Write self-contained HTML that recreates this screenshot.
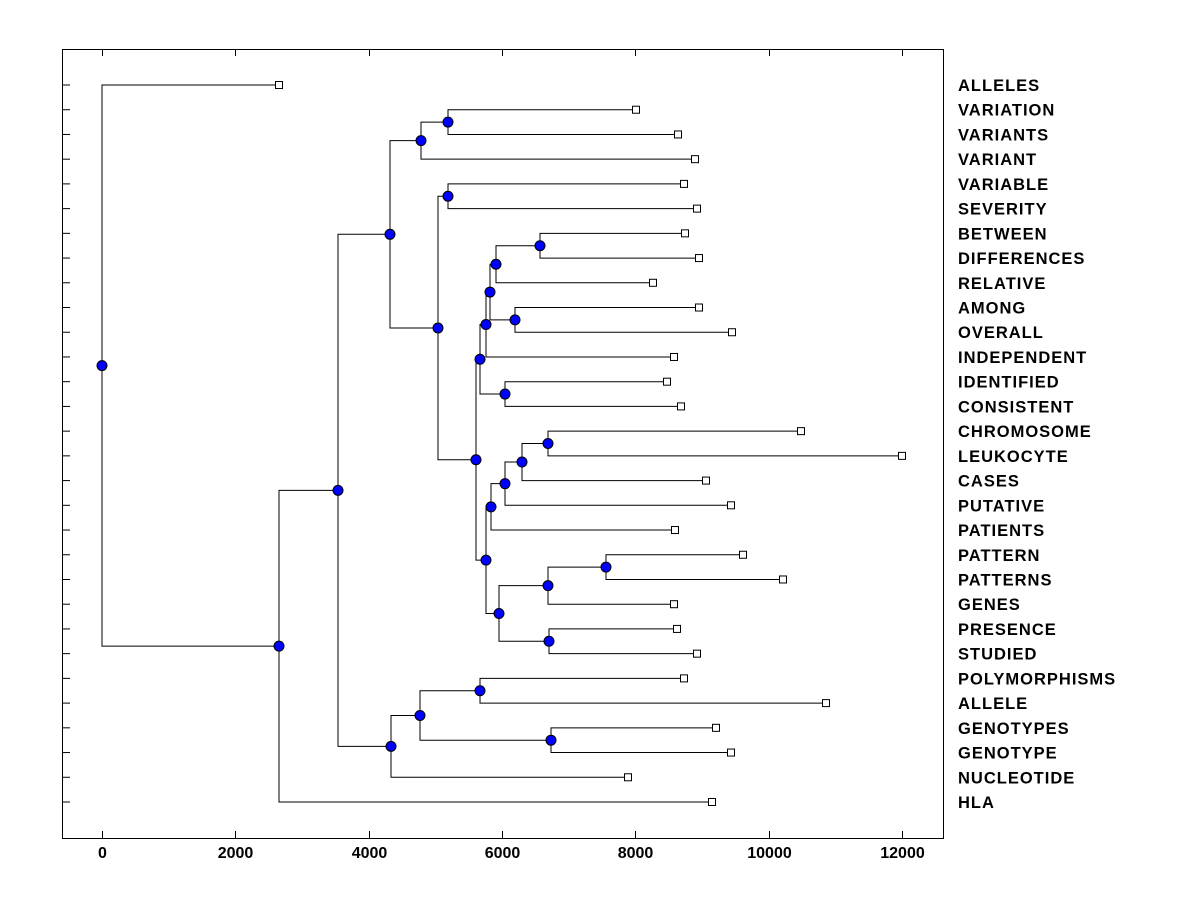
<!DOCTYPE html>
<html><head><meta charset="utf-8"><style>
body{margin:0;background:#fff;}
svg{display:block;font-family:"Liberation Sans",sans-serif;}
</style></head><body>
<svg id="chart" width="1200" height="900">
<rect x="0" y="0" width="1200" height="900" fill="#fff"/>
</svg>
<script>
const leafNames=["ALLELES","VARIATION","VARIANTS","VARIANT","VARIABLE","SEVERITY","BETWEEN","DIFFERENCES","RELATIVE","AMONG","OVERALL","INDEPENDENT","IDENTIFIED","CONSISTENT","CHROMOSOME","LEUKOCYTE","CASES","PUTATIVE","PATIENTS","PATTERN","PATTERNS","GENES","PRESENCE","STUDIED","POLYMORPHISMS","ALLELE","GENOTYPES","GENOTYPE","NUCLEOTIDE","HLA"];
const leafValues=[2655,8010,8640,8895,8730,8925,8745,8955,8265,8955,9450,8580,8475,8685,10485,12000,9060,9435,8595,9615,10215,8580,8625,8925,8730,10860,9210,9435,7890,9150];
// internal nodes: children refer to leaf names or node ids
const nodeIds=["G","E","H","Q","P","O","N","L","M","J","V","U","T","R","Y","W","X","S","K","I","F","C","AA","AB","Z","D","B","A","root"];
const nodeHeights=[5190,4785,5190,6570,5910,6195,5820,5760,6045,5670,6690,6300,6045,5835,7560,6690,6705,5955,5760,5610,5040,4320,5670,6735,4770,4335,3540,2655,0];
const nodeLeft=["VARIATION","G","VARIABLE","BETWEEN","Q","AMONG","P","N","IDENTIFIED","L","CHROMOSOME","V","U","T","PATTERN","Y","PRESENCE","W","R","J","H","E","POLYMORPHISMS","GENOTYPES","AA","Z","C","B","ALLELES"];
const nodeRight=["VARIANTS","VARIANT","SEVERITY","DIFFERENCES","RELATIVE","OVERALL","O","INDEPENDENT","CONSISTENT","M","LEUKOCYTE","CASES","PUTATIVE","PATIENTS","PATTERNS","GENES","STUDIED","X","S","K","I","F","ALLELE","GENOTYPE","AB","NUCLEOTIDE","D","HLA","A"];
const xTicks=[0,2000,4000,6000,8000,10000,12000];

const svg=document.getElementById('chart');
const NS="http://www.w3.org/2000/svg";
const L=62,R=943,T=49,B=838;
const xMin=-600,xMax=12615;
const xs=v=>L+(v-xMin)/(xMax-xMin)*(R-L);
const y0=85,dy=(802-85)/(leafNames.length-1);
const ys=i=>y0+i*dy;
function mk(tag,a,parent){const e=document.createElementNS(NS,tag);for(const k in a)e.setAttribute(k,a[k]);(parent||svg).appendChild(e);return e;}

const pos={};
leafNames.forEach((n,i)=>{pos[n]={x:xs(leafValues[i]),y:ys(i)};});
const gL=mk('g',{});


nodeIds.forEach((id,i)=>{
  const a=pos[nodeLeft[i]],b=pos[nodeRight[i]];
  const x=xs(nodeHeights[i]);
  pos[id]={x:x,y:(a.y+b.y)/2};
  const p=mk('path',{d:`M${a.x},${a.y}H${x}V${b.y}H${b.x}`,fill:'none',stroke:'#000','stroke-width':1},gL);
  
  
});
const box=mk('rect',{x:L+0.5,y:T+0.5,width:R-L,height:B-T,fill:'none',stroke:'#000','stroke-width':1});


leafNames.forEach((n,i)=>{
  const t=mk('line',{x1:L,x2:L+8,y1:ys(i),y2:ys(i),stroke:'#000'});
  
  
  const lb=mk('text',{x:958,y:ys(i)+6,'font-size':16.5,'font-weight':'bold','letter-spacing':1,fill:'#000'});
  lb.textContent=n;
  
  
});
xTicks.forEach(v=>{
  const x=Math.round(xs(v))+0.5;
  const t1=mk('line',{x1:x,x2:x,y1:B,y2:B-7,stroke:'#000'});
  
  
  const t2=mk('line',{x1:x,x2:x,y1:T,y2:T+7,stroke:'#000'});
  
  
  const lb=mk('text',{x:x,y:858,'font-size':16,'font-weight':'bold','text-anchor':'middle',fill:'#000'});
  lb.textContent=v;
  
  
});
leafNames.forEach(n=>{
  const p=pos[n];
  const s=mk('rect',{x:p.x-3.5,y:p.y-3.5,width:7,height:7,fill:'#fff',stroke:'#000'});
  
  
});
nodeIds.forEach(id=>{
  const p=pos[id];
  const c=mk('circle',{cx:p.x,cy:p.y,r:5,fill:'#0000ff',stroke:'#000','stroke-width':1});
  
  
});
</script>
</body></html>
